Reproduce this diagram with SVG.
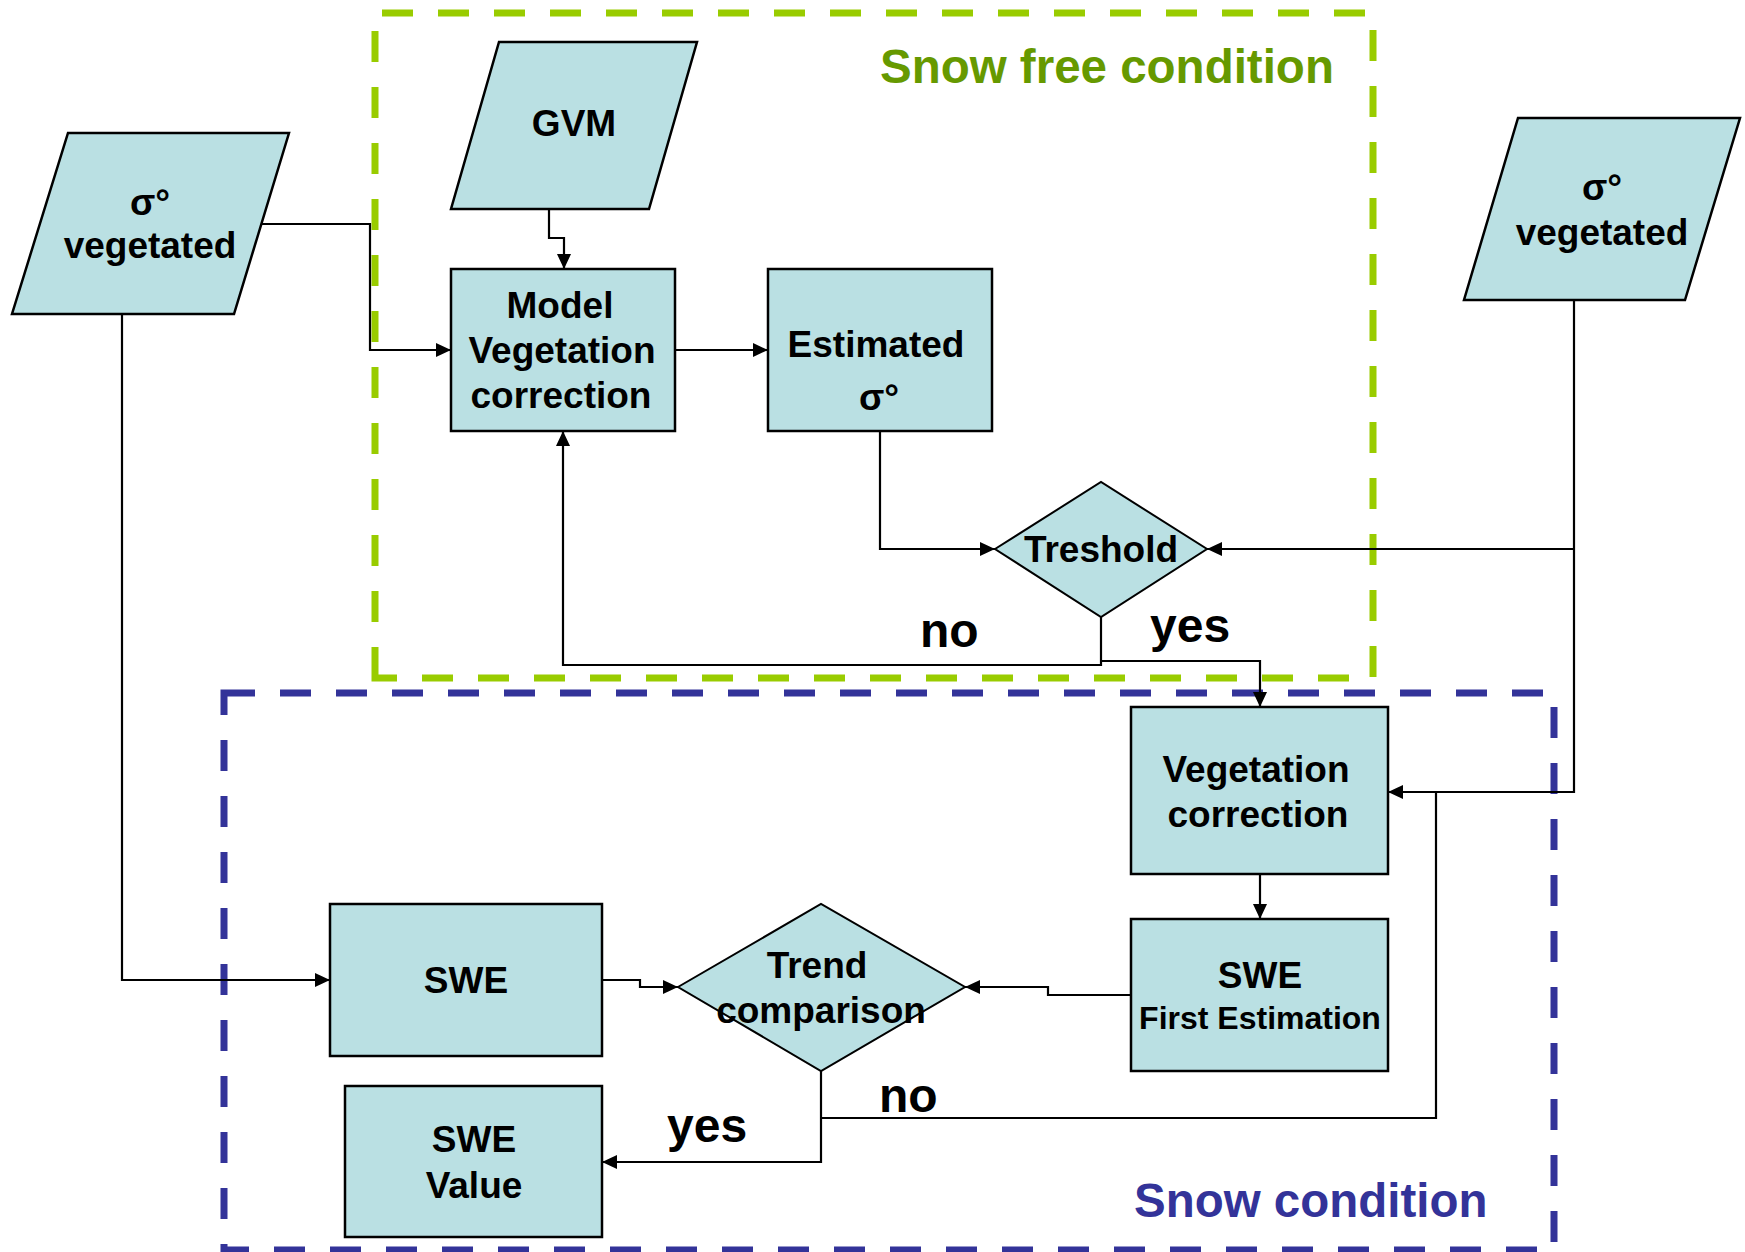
<svg xmlns="http://www.w3.org/2000/svg" width="1745" height="1252" viewBox="0 0 1745 1252">
<style>
.node{fill:#BAE0E3;stroke:#000;stroke-width:2.5}
.dia{fill:#BAE0E3;stroke:#000;stroke-width:2}
.t{font-family:"Liberation Sans",Arial,sans-serif;font-weight:bold;font-size:37px;fill:#000;text-anchor:middle}
.small{font-size:32px}
.lbl{font-family:"Liberation Sans",Arial,sans-serif;font-weight:bold;font-size:48px;fill:#000}
.grpt{font-family:"Liberation Sans",Arial,sans-serif;font-weight:bold;font-size:47.5px}
.c{fill:none;stroke:#000;stroke-width:2.2}
.grp{fill:none;stroke-width:7;stroke-dasharray:31 25}
</style>
<defs>
<marker id="ah" markerUnits="userSpaceOnUse" markerWidth="15" markerHeight="14" refX="15" refY="7" orient="auto">
<path d="M0,0 L15,7 L0,14 z" fill="#000"/>
</marker>
</defs>
<rect width="1745" height="1252" fill="#fff"/>
<g id="snow-free-group">
<path class="grp" stroke="#99CC00" d="M375,678 V13 H1373 V678 Z"/>
<text class="grpt" x="880" y="83" fill="#669900">Snow free condition</text>
</g>
<g id="snow-group">
<path class="grp" stroke="#333399" d="M224,693 H1554 V1250 H224 Z"/>
<text class="grpt" x="1134" y="1217" fill="#333399">Snow condition</text>
</g>
<g id="connectors">
<path class="c" d="M549,209 V238 H564 V269" marker-end="url(#ah)"/>
<path class="c" d="M261,224 H370 V350 H451" marker-end="url(#ah)"/>
<path class="c" d="M675,350 H768" marker-end="url(#ah)"/>
<path class="c" d="M880,431 V549 H995" marker-end="url(#ah)"/>
<path class="c" d="M1574,300 V792 H1388" marker-end="url(#ah)"/>
<path class="c" d="M1574,549 H1207" marker-end="url(#ah)"/>
<path class="c" d="M1101,617 V665 H563 V431" marker-end="url(#ah)"/>
<path class="c" d="M1101,661 H1260 V707" marker-end="url(#ah)"/>
<path class="c" d="M1260,874 V919" marker-end="url(#ah)"/>
<path class="c" d="M1131,995 H1048 V987 H965" marker-end="url(#ah)"/>
<path class="c" d="M122,314 V980 H330" marker-end="url(#ah)"/>
<path class="c" d="M602,980 H640 V987 H678" marker-end="url(#ah)"/>
<path class="c" d="M821,1071 V1162 H602" marker-end="url(#ah)"/>
<path class="c" d="M821,1118 H1436 V792"/>
<text class="lbl" x="920" y="647">no</text>
<text class="lbl" x="1150" y="642">yes</text>
<text class="lbl" x="879" y="1112">no</text>
<text class="lbl" x="667" y="1142">yes</text>
</g>
<g id="sigma-left">
<polygon class="node" points="68,133 289,133 234,314 12,314"/>
<text class="t" x="150" y="215">σ°</text>
<text class="t" x="150" y="258">vegetated</text>
</g>
<g id="gvm">
<polygon class="node" points="499,42 697,42 649,209 451,209"/>
<text class="t" x="574" y="136">GVM</text>
</g>
<g id="sigma-right">
<polygon class="node" points="1518,118 1740,118 1685,300 1464,300"/>
<text class="t" x="1602" y="200">σ°</text>
<text class="t" x="1602" y="245">vegetated</text>
</g>
<g id="model-veg-corr">
<rect class="node" x="451" y="269" width="224" height="162"/>
<text class="t" x="560" y="318">Model</text>
<text class="t" x="562" y="363">Vegetation</text>
<text class="t" x="561" y="408">correction</text>
</g>
<g id="estimated">
<rect class="node" x="768" y="269" width="224" height="162"/>
<text class="t" x="876" y="357">Estimated</text>
<text class="t" x="879" y="410">σ°</text>
</g>
<g id="treshold">
<polygon class="dia" points="995,549 1101,482 1207,549 1101,617"/>
<text class="t" x="1101" y="562">Treshold</text>
</g>
<g id="veg-corr">
<rect class="node" x="1131" y="707" width="257" height="167"/>
<text class="t" x="1256" y="782">Vegetation</text>
<text class="t" x="1258" y="827">correction</text>
</g>
<g id="swe-first">
<rect class="node" x="1131" y="919" width="257" height="152"/>
<text class="t" x="1260" y="988">SWE</text>
<text class="t small" x="1260" y="1029">First Estimation</text>
</g>
<g id="trend">
<polygon class="dia" points="678,987 821,904 965,987 821,1071"/>
<text class="t" x="817" y="978">Trend</text>
<text class="t" x="821" y="1023">comparison</text>
</g>
<g id="swe">
<rect class="node" x="330" y="904" width="272" height="152"/>
<text class="t" x="466" y="993">SWE</text>
</g>
<g id="swe-value">
<rect class="node" x="345" y="1086" width="257" height="151"/>
<text class="t" x="474" y="1152">SWE</text>
<text class="t" x="474" y="1198">Value</text>
</g>
</svg>
